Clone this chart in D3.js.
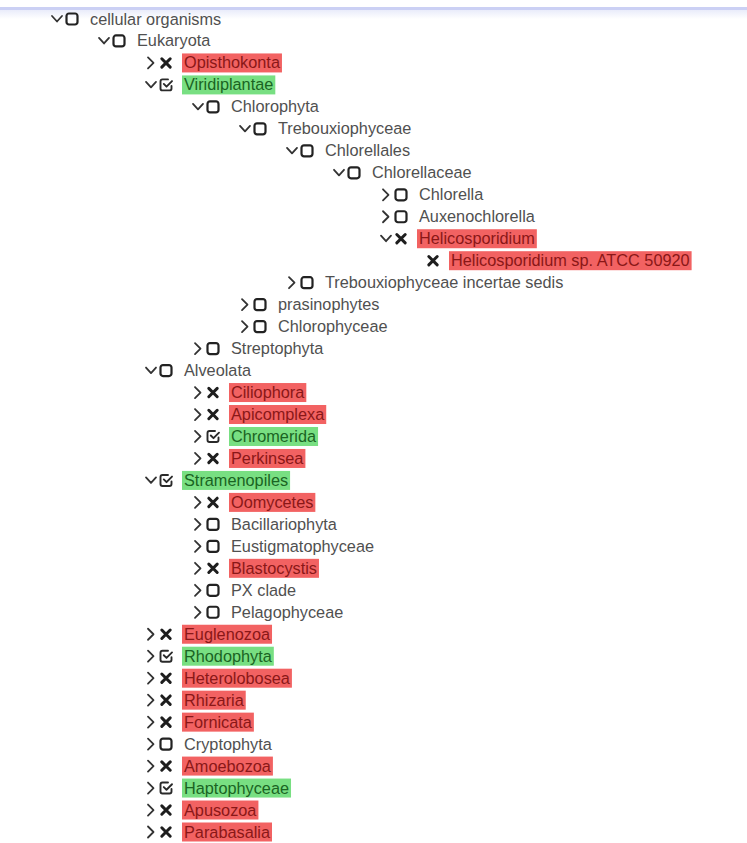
<!DOCTYPE html>
<html>
<head>
<meta charset="utf-8">
<script src="https://cdn.jsdelivr.net/npm/d3@7"></script>
<style>
  body { margin: 0; background: #fff; }
  svg { display: block; }
</style>
</head>
<body>
<script>
const svgWidth = 747;
const svgHeight = 843;

// tree rows, top to bottom
const labels = [
  "cellular organisms", "Eukaryota", "Opisthokonta", "Viridiplantae", "Chlorophyta",
  "Trebouxiophyceae", "Chlorellales", "Chlorellaceae", "Chlorella", "Auxenochlorella",
  "Helicosporidium", "Helicosporidium sp. ATCC 50920", "Trebouxiophyceae incertae sedis",
  "prasinophytes", "Chlorophyceae", "Streptophyta", "Alveolata", "Ciliophora", "Apicomplexa",
  "Chromerida", "Perkinsea", "Stramenopiles", "Oomycetes", "Bacillariophyta",
  "Eustigmatophyceae", "Blastocystis", "PX clade", "Pelagophyceae", "Euglenozoa",
  "Rhodophyta", "Heterolobosea", "Rhizaria", "Fornicata", "Cryptophyta", "Amoebozoa",
  "Haptophyceae", "Apusozoa", "Parabasalia"
];
const depths = [0, 1, 2, 2, 3, 4, 5, 6, 7, 7, 7, 8, 5, 4, 4, 3, 2, 3, 3, 3, 3, 2, 3, 3,
  3, 3, 3, 3, 2, 2, 2, 2, 2, 2, 2, 2, 2, 2];
// none = empty box, out = excluded (red), in = included (green)
const states = ["none", "none", "out", "in", "none", "none", "none", "none", "none", "none",
  "out", "out", "none", "none", "none", "none", "none", "out", "out", "in", "out", "in",
  "out", "none", "none", "out", "none", "none", "out", "in", "out", "out", "out", "none",
  "out", "in", "out", "out"];
const toggles = ["open", "open", "closed", "open", "open", "open", "open", "open", "closed",
  "closed", "open", "leaf", "closed", "closed", "closed", "closed", "open", "closed",
  "closed", "closed", "closed", "open", "closed", "closed", "closed", "closed", "closed",
  "closed", "closed", "closed", "closed", "closed", "closed", "closed", "closed", "closed",
  "closed", "closed"];

const rows = labels.map((d, i) => ({label: d, depth: depths[i], state: states[i], toggle: toggles[i], i}));

const y = d3.scaleLinear().domain([0, labels.length - 1]).range([19, 832]);
const x = d3.scaleLinear().domain([0, 1]).range([57, 104]);

const bgColor = {none: "none", out: "#f26262", in: "#78df82"};
const fgColor = {none: "#505050", out: "#8a1717", in: "#1a6422"};

const svg = d3.select("body").append("svg")
  .attr("width", svgWidth)
  .attr("height", svgHeight);

const defs = svg.append("defs");
const grad = defs.append("linearGradient").attr("id", "topfade")
  .attr("x1", 0).attr("x2", 0).attr("y1", 0).attr("y2", 1);
grad.append("stop").attr("offset", 0).attr("stop-color", "#e9ecfa");
grad.append("stop").attr("offset", 1).attr("stop-color", "#ffffff");

svg.append("rect").attr("x", 0).attr("y", 10).attr("width", svgWidth).attr("height", 9)
  .attr("fill", "url(#topfade)");
svg.append("rect").attr("x", 0).attr("y", 7).attr("width", svgWidth).attr("height", 3)
  .attr("fill", "#cbd0f4");

const row = svg.selectAll("g.row")
  .data(rows)
  .enter()
  .append("g")
  .attr("class", "row")
  .attr("transform", d => `translate(${x(d.depth) - (d.toggle === "leaf" ? 15 : 0)},${y(d.i)})`);

// expand / collapse chevrons
row.filter(d => d.toggle !== "leaf")
  .append("path")
  .attr("d", d => d.toggle === "open" ? "M-5,-3 L0,2.5 L5,-3" : "M-3,-5.5 L2.5,0 L-3,5.5")
  .attr("fill", "none")
  .attr("stroke", "#333")
  .attr("stroke-width", 1.8)
  .attr("stroke-linecap", "round")
  .attr("stroke-linejoin", "round");

const icon = row.append("g").attr("transform", "translate(15,0)");

icon.filter(d => d.state === "none")
  .append("rect")
  .attr("x", -5.5).attr("y", -5.5).attr("width", 11).attr("height", 11)
  .attr("rx", 2.5)
  .attr("fill", "none")
  .attr("stroke", "#222")
  .attr("stroke-width", 2.2);

icon.filter(d => d.state === "out")
  .append("path")
  .attr("d", "M-4.2,-4.2 L4.2,4.2 M4.2,-4.2 L-4.2,4.2")
  .attr("stroke", "#1e1e1e")
  .attr("stroke-width", 3)
  .attr("stroke-linecap", "round");

icon.filter(d => d.state === "in")
  .append("path")
  .attr("d", "M2,-5.5 L-3.5,-5.5 Q-5.5,-5.5 -5.5,-3.5 L-5.5,3.5 Q-5.5,5.5 -3.5,5.5 L3.5,5.5 Q5.5,5.5 5.5,3.5 L5.5,1 M-2.2,-1 L0.5,1.7 L6,-3.8")
  .attr("fill", "none")
  .attr("stroke", "#2a2a2a")
  .attr("stroke-width", 1.9)
  .attr("stroke-linecap", "round")
  .attr("stroke-linejoin", "round");

const bg = row.append("rect")
  .attr("x", 31)
  .attr("y", -9.5)
  .attr("height", 19)
  .attr("fill", d => bgColor[d.state]);

const text = row.append("text")
  .attr("x", 33)
  .attr("y", 5.5)
  .style("font-family", "'Liberation Sans', Arial, sans-serif")
  .style("font-size", "16.3px")
  .style("fill", d => fgColor[d.state])
  .text(d => d.label);

text.each(function(d) { d.w = this.getComputedTextLength(); });
bg.attr("width", d => d.w + 4);
</script>
</body>
</html>
